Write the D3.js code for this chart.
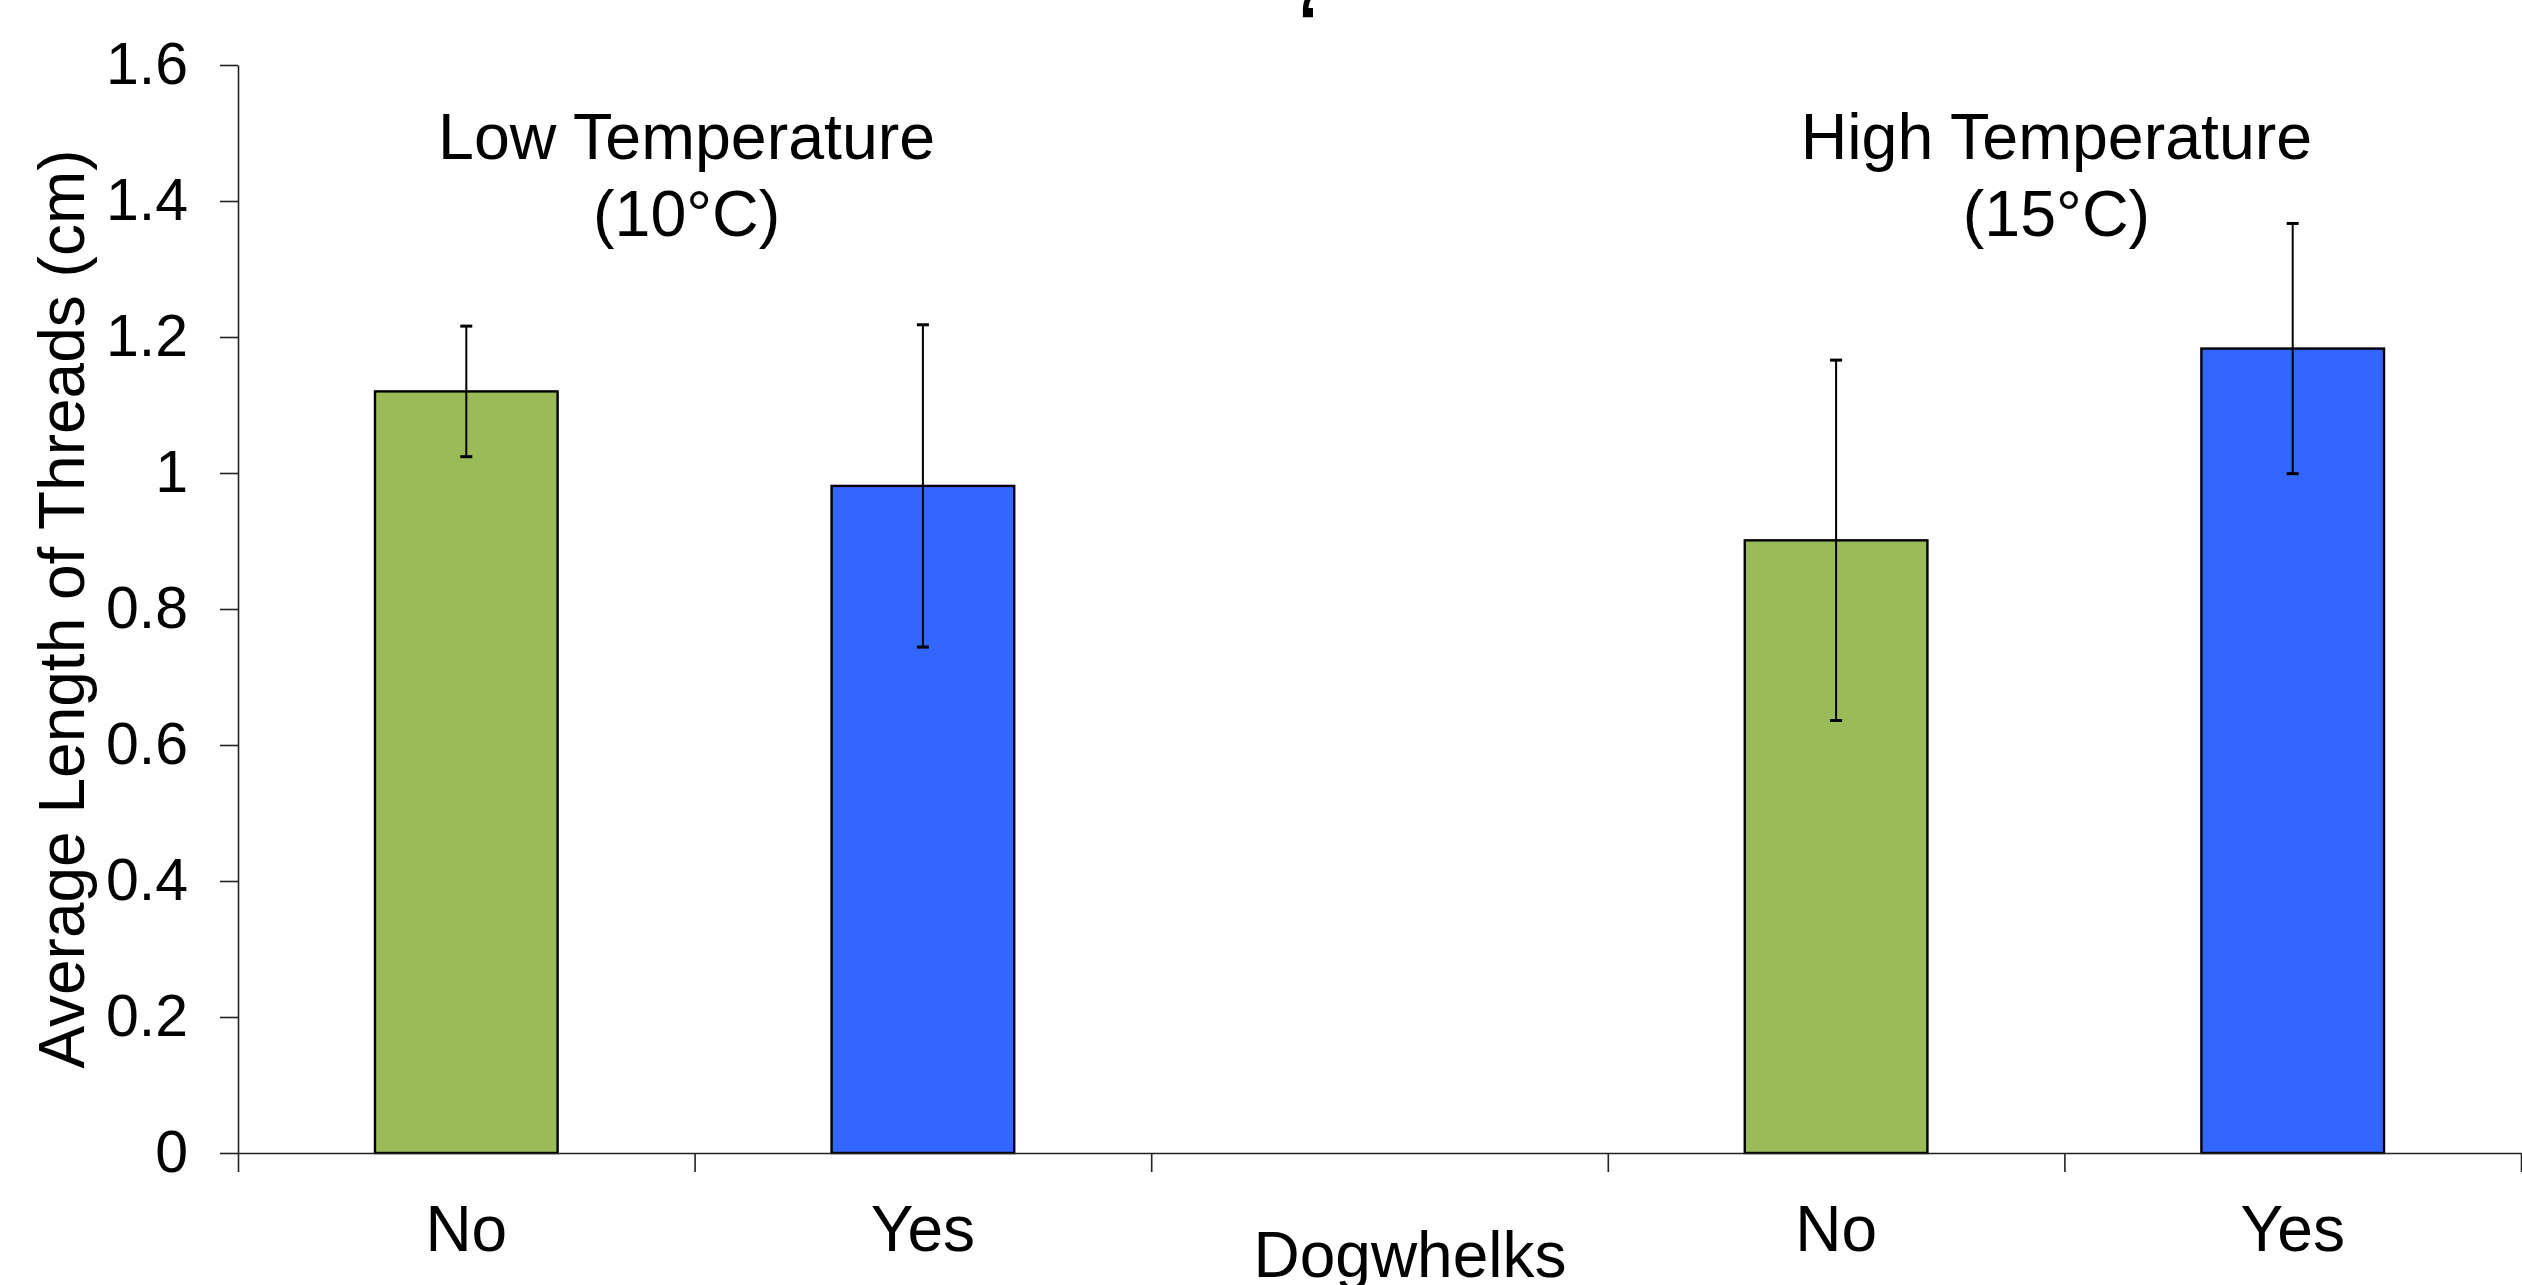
<!DOCTYPE html>
<html>
<head>
<meta charset="utf-8">
<script src="https://cdnjs.cloudflare.com/ajax/libs/d3/7.8.5/d3.min.js"></script>
<style>
  html, body { margin: 0; padding: 0; background: #fff; }
  svg { display: block; }
  text { font-family: "Liberation Sans", Arial, sans-serif; fill: #000; }
</style>
</head>
<body>
<svg id="chart"></svg>
<script>
// =============================
// DATA
// =============================
var categories = ["No", "Yes", "", "No", "Yes"];
var barColors = ["#9BBB59", "#3366FF", null, "#9BBB59", "#3366FF"];
var means = [1.12, 0.981, null, 0.901, 1.183];
var errors = [0.096, 0.237, null, 0.265, 0.184];
var yTicks = [0, 0.2, 0.4, 0.6, 0.8, 1, 1.2, 1.4, 1.6];
var groupTitles = [["Low Temperature", "(10°C)"], ["High Temperature", "(15°C)"]];
var groupAt = [1, 4];   // band boundary each title sits over

// =============================
// SIZES
// =============================
var width = 2522,
  height = 1285,
  margin = { top: 65, right: 1, bottom: 132, left: 238 },
  innerW = width - margin.left - margin.right,
  innerH = height - margin.top - margin.bottom;

var svg = d3.select("#chart")
  .attr("width", width)
  .attr("height", height);

var g = svg.append("g")
  .attr("transform", "translate(" + margin.left + "," + margin.top + ")");

var keys = categories.map(function (d, i) { return "c" + i; });

var x = d3.scaleBand()
  .domain(keys)
  .range([0, innerW])
  .padding(0);

// boundaries between categories, used for the tick marks
var xEdge = d3.scaleLinear()
  .domain([0, categories.length])
  .range([0, innerW]);

var y = d3.scaleLinear()
  .domain([0, 1.6])
  .range([innerH, 0]);

// ####################################
// # BARS
// ####################################
var barW = x.bandwidth() * 0.4;

var rows = keys.map(function (k, i) {
  return { key: k, mean: means[i], err: errors[i], color: barColors[i] };
}).filter(function (d) { return d.mean !== null; });

g.append("g")
  .selectAll("rect")
  .data(rows)
  .enter().append("rect")
  .attr("x", function (d) { return x(d.key) + (x.bandwidth() - barW) / 2; })
  .attr("y", function (d) { return y(d.mean); })
  .attr("width", barW)
  .attr("height", function (d) { return y(0) - y(d.mean); })
  .attr("fill", function (d) { return d.color; })
  .attr("stroke", "#000")
  .attr("stroke-width", 2.4);

// ####################################
// # ERROR BARS
// ####################################
var err = g.append("g")
  .selectAll("g")
  .data(rows)
  .enter().append("g")
  .attr("transform", function (d) { return "translate(" + (x(d.key) + x.bandwidth() / 2) + ",0)"; });

err.append("line")
  .attr("y1", function (d) { return y(d.mean - d.err); })
  .attr("y2", function (d) { return y(d.mean + d.err); })
  .attr("stroke", "#000")
  .attr("stroke-width", 2);

err.selectAll(".cap")
  .data(function (d) { return [d.mean - d.err, d.mean + d.err]; })
  .enter().append("line")
  .attr("class", "cap")
  .attr("x1", -6)
  .attr("x2", 6)
  .attr("y1", function (v) { return y(v); })
  .attr("y2", function (v) { return y(v); })
  .attr("stroke", "#000")
  .attr("stroke-width", 3);

// ####################################
// # AXES
// ####################################
var yAxis = g.append("g")
  .call(d3.axisLeft(y)
    .tickValues(yTicks)
    .tickSize(18)
    .tickSizeOuter(0)
    .tickPadding(32)
    .tickFormat(d3.format(".1~f")));

yAxis.selectAll("text")
  .attr("font-size", 59)
  .attr("font-family", "Liberation Sans, Arial, sans-serif")
  .attr("fill", "#000");

var xAxis = g.append("g")
  .attr("transform", "translate(0," + innerH + ")")
  .call(d3.axisBottom(xEdge)
    .tickValues(d3.range(categories.length + 1))
    .tickSize(19)
    .tickSizeOuter(0)
    .tickFormat(""));

svg.selectAll(".domain, .tick line")
  .attr("stroke", "#222")
  .attr("stroke-width", 1.6);

// category labels
g.append("g")
  .selectAll("text")
  .data(keys)
  .enter().append("text")
  .attr("x", function (k) { return x(k) + x.bandwidth() / 2; })
  .attr("y", innerH + 98)
  .attr("text-anchor", "middle")
  .attr("font-size", 64)
  .text(function (k, i) { return categories[i]; });

// axis titles
svg.append("text")
  .attr("x", 1410)
  .attr("y", 1277)
  .attr("text-anchor", "middle")
  .attr("font-size", 64)
  .text("Dogwhelks");

svg.append("text")
  .attr("transform", "translate(84," + 609 + ") rotate(-90)")
  .attr("text-anchor", "middle")
  .attr("font-size", 64)
  .text("Average Length of Threads (cm)");

// group titles
var titles = g.append("g")
  .selectAll("text")
  .data(groupTitles)
  .enter().append("text")
  .attr("text-anchor", "middle")
  .attr("font-size", 64.5)
  .attr("transform", function (d, i) { return "translate(" + (xEdge(groupAt[i]) - 8) + ",94)"; });

titles.selectAll("tspan")
  .data(function (d) { return d; })
  .enter().append("tspan")
  .attr("x", 0)
  .attr("y", function (d, i) { return i * 77; })
  .text(function (d) { return d; });

// stray mark left at the top edge of the original
svg.append("text")
  .attr("x", 1298)
  .attr("y", 46)
  .attr("font-size", 72)
  .attr("font-weight", "bold")
  .text("\u2018");
</script>
</body>
</html>
